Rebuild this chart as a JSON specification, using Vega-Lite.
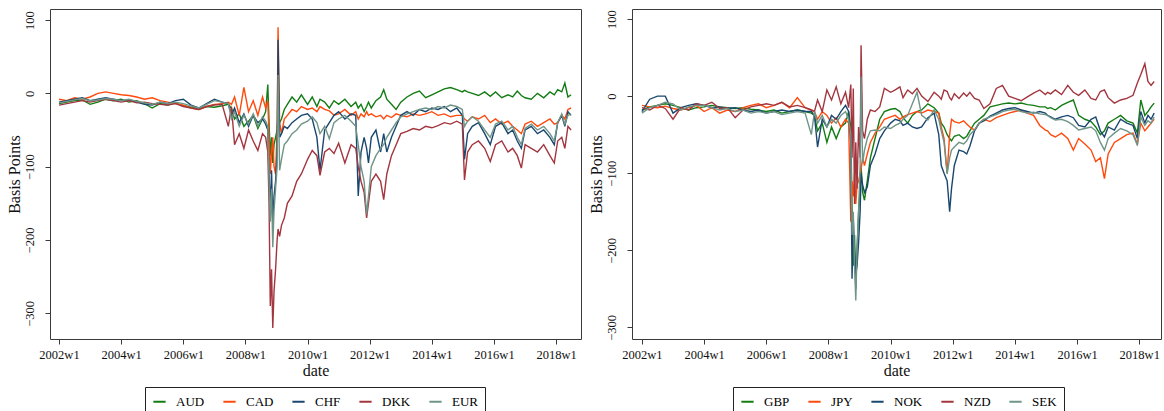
{
"$schema":"https://vega.github.io/schema/vega-lite/v6.json",
"padding":{"left":5,"top":8,"right":0,"bottom":0},
"background":"white",
"spacing":5,
"config":{
"view":{"stroke":"#3a3a3a","strokeWidth":1},
"font":"Liberation Serif",
"axis":{"labelFont":"Liberation Serif","titleFont":"Liberation Serif","labelColor":"#111","titleColor":"#111","titleFontWeight":"normal","grid":false,"domain":false,"tickColor":"#3a3a3a","tickSize":5,"labelFontSize":12.5,"titleFontSize":16},
"axisX":{"labelPadding":4,"titlePadding":2},
"axisY":{"labelAngle":-90,"labelAlign":"center","labelBaseline":"bottom","labelPadding":9,"titlePadding":1},
"legend":{"orient":"none","legendY":378,"direction":"horizontal","symbolType":"stroke","symbolStrokeWidth":2,"symbolSize":150,"labelFont":"Liberation Serif","labelFontSize":13,"labelColor":"#000","strokeColor":"#222","padding":7,"columnPadding":14,"labelOffset":9,"fillColor":"white"}
},
"datasets":{
"L":[
{"c":"AUD","d":2002.0,"v":-14},{"c":"AUD","d":2002.25,"v":-12},{"c":"AUD","d":2002.5,"v":-10},{"c":"AUD","d":2002.75,"v":-9},{"c":"AUD","d":2003.0,"v":-15},{"c":"AUD","d":2003.25,"v":-12},{"c":"AUD","d":2003.5,"v":-8},{"c":"AUD","d":2003.75,"v":-10},{"c":"AUD","d":2004.0,"v":-8},{"c":"AUD","d":2004.25,"v":-12},{"c":"AUD","d":2004.5,"v":-10},{"c":"AUD","d":2004.75,"v":-14},{"c":"AUD","d":2005.0,"v":-20},{"c":"AUD","d":2005.25,"v":-14},{"c":"AUD","d":2005.5,"v":-16},{"c":"AUD","d":2005.75,"v":-13},{"c":"AUD","d":2006.0,"v":-17},{"c":"AUD","d":2006.25,"v":-19},{"c":"AUD","d":2006.5,"v":-21},{"c":"AUD","d":2006.75,"v":-18},{"c":"AUD","d":2007.0,"v":-19},{"c":"AUD","d":2007.25,"v":-17},{"c":"AUD","d":2007.45,"v":-15},{"c":"AUD","d":2007.55,"v":-20},{"c":"AUD","d":2007.65,"v":-35},{"c":"AUD","d":2007.8,"v":-28},{"c":"AUD","d":2007.95,"v":-45},{"c":"AUD","d":2008.1,"v":-38},{"c":"AUD","d":2008.25,"v":-30},{"c":"AUD","d":2008.4,"v":-48},{"c":"AUD","d":2008.55,"v":-35},{"c":"AUD","d":2008.65,"v":-25},{"c":"AUD","d":2008.72,"v":12},{"c":"AUD","d":2008.76,"v":-40},{"c":"AUD","d":2008.8,"v":-85},{"c":"AUD","d":2008.84,"v":-60},{"c":"AUD","d":2008.88,"v":-95},{"c":"AUD","d":2008.92,"v":-70},{"c":"AUD","d":2008.97,"v":-60},{"c":"AUD","d":2009.02,"v":-50},{"c":"AUD","d":2009.05,"v":-30},{"c":"AUD","d":2009.1,"v":-40},{"c":"AUD","d":2009.16,"v":-35},{"c":"AUD","d":2009.25,"v":-22},{"c":"AUD","d":2009.35,"v":-15},{"c":"AUD","d":2009.5,"v":-5},{"c":"AUD","d":2009.65,"v":-12},{"c":"AUD","d":2009.8,"v":-2},{"c":"AUD","d":2010.0,"v":-15},{"c":"AUD","d":2010.15,"v":-5},{"c":"AUD","d":2010.3,"v":-18},{"c":"AUD","d":2010.4,"v":-8},{"c":"AUD","d":2010.55,"v":-12},{"c":"AUD","d":2010.7,"v":-20},{"c":"AUD","d":2010.85,"v":-10},{"c":"AUD","d":2011.0,"v":-15},{"c":"AUD","d":2011.2,"v":-8},{"c":"AUD","d":2011.4,"v":-18},{"c":"AUD","d":2011.55,"v":-12},{"c":"AUD","d":2011.63,"v":-20},{"c":"AUD","d":2011.72,"v":-15},{"c":"AUD","d":2011.82,"v":-25},{"c":"AUD","d":2011.9,"v":-18},{"c":"AUD","d":2011.96,"v":-12},{"c":"AUD","d":2012.05,"v":-20},{"c":"AUD","d":2012.2,"v":-10},{"c":"AUD","d":2012.35,"v":-5},{"c":"AUD","d":2012.45,"v":5},{"c":"AUD","d":2012.55,"v":-8},{"c":"AUD","d":2012.7,"v":-15},{"c":"AUD","d":2012.85,"v":-22},{"c":"AUD","d":2013.0,"v":-12},{"c":"AUD","d":2013.2,"v":-5},{"c":"AUD","d":2013.4,"v":0},{"c":"AUD","d":2013.6,"v":3},{"c":"AUD","d":2013.8,"v":-6},{"c":"AUD","d":2014.0,"v":-2},{"c":"AUD","d":2014.2,"v":2},{"c":"AUD","d":2014.4,"v":6},{"c":"AUD","d":2014.6,"v":8},{"c":"AUD","d":2014.8,"v":5},{"c":"AUD","d":2014.98,"v":2},{"c":"AUD","d":2015.05,"v":4},{"c":"AUD","d":2015.15,"v":2},{"c":"AUD","d":2015.3,"v":0},{"c":"AUD","d":2015.5,"v":-3},{"c":"AUD","d":2015.7,"v":2},{"c":"AUD","d":2015.88,"v":-4},{"c":"AUD","d":2016.05,"v":2},{"c":"AUD","d":2016.25,"v":-6},{"c":"AUD","d":2016.45,"v":-2},{"c":"AUD","d":2016.6,"v":-5},{"c":"AUD","d":2016.75,"v":3},{"c":"AUD","d":2016.88,"v":-3},{"c":"AUD","d":2017.0,"v":-6},{"c":"AUD","d":2017.2,"v":-8},{"c":"AUD","d":2017.4,"v":0},{"c":"AUD","d":2017.6,"v":-6},{"c":"AUD","d":2017.8,"v":2},{"c":"AUD","d":2017.94,"v":-2},{"c":"AUD","d":2018.05,"v":5},{"c":"AUD","d":2018.18,"v":2},{"c":"AUD","d":2018.28,"v":14},{"c":"AUD","d":2018.38,"v":-5},{"c":"AUD","d":2018.48,"v":-2},
{"c":"CAD","d":2002.0,"v":-8},{"c":"CAD","d":2002.25,"v":-10},{"c":"CAD","d":2002.5,"v":-6},{"c":"CAD","d":2002.75,"v":-8},{"c":"CAD","d":2003.0,"v":-5},{"c":"CAD","d":2003.25,"v":0},{"c":"CAD","d":2003.5,"v":2},{"c":"CAD","d":2003.75,"v":0},{"c":"CAD","d":2004.0,"v":-2},{"c":"CAD","d":2004.25,"v":-3},{"c":"CAD","d":2004.5,"v":-5},{"c":"CAD","d":2004.75,"v":-8},{"c":"CAD","d":2005.0,"v":-6},{"c":"CAD","d":2005.25,"v":-10},{"c":"CAD","d":2005.5,"v":-12},{"c":"CAD","d":2005.75,"v":-14},{"c":"CAD","d":2006.0,"v":-16},{"c":"CAD","d":2006.25,"v":-20},{"c":"CAD","d":2006.5,"v":-22},{"c":"CAD","d":2006.75,"v":-18},{"c":"CAD","d":2007.0,"v":-15},{"c":"CAD","d":2007.25,"v":-14},{"c":"CAD","d":2007.45,"v":-12},{"c":"CAD","d":2007.55,"v":-15},{"c":"CAD","d":2007.65,"v":-5},{"c":"CAD","d":2007.8,"v":-30},{"c":"CAD","d":2007.95,"v":8},{"c":"CAD","d":2008.1,"v":-25},{"c":"CAD","d":2008.25,"v":-10},{"c":"CAD","d":2008.4,"v":-30},{"c":"CAD","d":2008.55,"v":-5},{"c":"CAD","d":2008.65,"v":-20},{"c":"CAD","d":2008.72,"v":-10},{"c":"CAD","d":2008.76,"v":-60},{"c":"CAD","d":2008.8,"v":-110},{"c":"CAD","d":2008.84,"v":-80},{"c":"CAD","d":2008.88,"v":-60},{"c":"CAD","d":2008.92,"v":-100},{"c":"CAD","d":2008.97,"v":-110},{"c":"CAD","d":2009.02,"v":-50},{"c":"CAD","d":2009.05,"v":90},{"c":"CAD","d":2009.1,"v":-40},{"c":"CAD","d":2009.16,"v":-55},{"c":"CAD","d":2009.25,"v":-35},{"c":"CAD","d":2009.35,"v":-30},{"c":"CAD","d":2009.5,"v":-22},{"c":"CAD","d":2009.65,"v":-25},{"c":"CAD","d":2009.8,"v":-18},{"c":"CAD","d":2010.0,"v":-22},{"c":"CAD","d":2010.15,"v":-20},{"c":"CAD","d":2010.3,"v":-25},{"c":"CAD","d":2010.4,"v":-18},{"c":"CAD","d":2010.55,"v":-22},{"c":"CAD","d":2010.7,"v":-24},{"c":"CAD","d":2010.85,"v":-30},{"c":"CAD","d":2011.0,"v":-28},{"c":"CAD","d":2011.2,"v":-22},{"c":"CAD","d":2011.4,"v":-30},{"c":"CAD","d":2011.55,"v":-25},{"c":"CAD","d":2011.63,"v":-35},{"c":"CAD","d":2011.72,"v":-28},{"c":"CAD","d":2011.82,"v":-32},{"c":"CAD","d":2011.9,"v":-25},{"c":"CAD","d":2011.96,"v":-30},{"c":"CAD","d":2012.05,"v":-28},{"c":"CAD","d":2012.2,"v":-32},{"c":"CAD","d":2012.35,"v":-30},{"c":"CAD","d":2012.45,"v":-35},{"c":"CAD","d":2012.55,"v":-30},{"c":"CAD","d":2012.7,"v":-33},{"c":"CAD","d":2012.85,"v":-28},{"c":"CAD","d":2013.0,"v":-30},{"c":"CAD","d":2013.2,"v":-32},{"c":"CAD","d":2013.4,"v":-28},{"c":"CAD","d":2013.6,"v":-30},{"c":"CAD","d":2013.8,"v":-28},{"c":"CAD","d":2014.0,"v":-25},{"c":"CAD","d":2014.2,"v":-30},{"c":"CAD","d":2014.4,"v":-28},{"c":"CAD","d":2014.6,"v":-32},{"c":"CAD","d":2014.8,"v":-30},{"c":"CAD","d":2014.98,"v":-30},{"c":"CAD","d":2015.05,"v":-35},{"c":"CAD","d":2015.15,"v":-38},{"c":"CAD","d":2015.3,"v":-32},{"c":"CAD","d":2015.5,"v":-35},{"c":"CAD","d":2015.7,"v":-30},{"c":"CAD","d":2015.88,"v":-40},{"c":"CAD","d":2016.05,"v":-35},{"c":"CAD","d":2016.25,"v":-42},{"c":"CAD","d":2016.45,"v":-38},{"c":"CAD","d":2016.6,"v":-45},{"c":"CAD","d":2016.75,"v":-50},{"c":"CAD","d":2016.88,"v":-55},{"c":"CAD","d":2017.0,"v":-42},{"c":"CAD","d":2017.2,"v":-38},{"c":"CAD","d":2017.4,"v":-45},{"c":"CAD","d":2017.6,"v":-40},{"c":"CAD","d":2017.8,"v":-35},{"c":"CAD","d":2017.94,"v":-42},{"c":"CAD","d":2018.05,"v":-40},{"c":"CAD","d":2018.18,"v":-30},{"c":"CAD","d":2018.28,"v":-35},{"c":"CAD","d":2018.38,"v":-22},{"c":"CAD","d":2018.48,"v":-20},
{"c":"CHF","d":2002.0,"v":-12},{"c":"CHF","d":2002.25,"v":-10},{"c":"CHF","d":2002.5,"v":-8},{"c":"CHF","d":2002.75,"v":-6},{"c":"CHF","d":2003.0,"v":-10},{"c":"CHF","d":2003.25,"v":-8},{"c":"CHF","d":2003.5,"v":-6},{"c":"CHF","d":2003.75,"v":-8},{"c":"CHF","d":2004.0,"v":-10},{"c":"CHF","d":2004.25,"v":-9},{"c":"CHF","d":2004.5,"v":-12},{"c":"CHF","d":2004.75,"v":-15},{"c":"CHF","d":2005.0,"v":-16},{"c":"CHF","d":2005.25,"v":-12},{"c":"CHF","d":2005.5,"v":-14},{"c":"CHF","d":2005.75,"v":-10},{"c":"CHF","d":2006.0,"v":-8},{"c":"CHF","d":2006.25,"v":-16},{"c":"CHF","d":2006.5,"v":-20},{"c":"CHF","d":2006.75,"v":-14},{"c":"CHF","d":2007.0,"v":-8},{"c":"CHF","d":2007.25,"v":-12},{"c":"CHF","d":2007.45,"v":-14},{"c":"CHF","d":2007.55,"v":-30},{"c":"CHF","d":2007.65,"v":-20},{"c":"CHF","d":2007.8,"v":-40},{"c":"CHF","d":2007.95,"v":-28},{"c":"CHF","d":2008.1,"v":-45},{"c":"CHF","d":2008.25,"v":-30},{"c":"CHF","d":2008.4,"v":-40},{"c":"CHF","d":2008.55,"v":-35},{"c":"CHF","d":2008.65,"v":-42},{"c":"CHF","d":2008.72,"v":-50},{"c":"CHF","d":2008.76,"v":-110},{"c":"CHF","d":2008.8,"v":-160},{"c":"CHF","d":2008.84,"v":-105},{"c":"CHF","d":2008.88,"v":-175},{"c":"CHF","d":2008.92,"v":-140},{"c":"CHF","d":2008.97,"v":-120},{"c":"CHF","d":2009.02,"v":-80},{"c":"CHF","d":2009.05,"v":73},{"c":"CHF","d":2009.1,"v":-60},{"c":"CHF","d":2009.16,"v":-55},{"c":"CHF","d":2009.25,"v":-45},{"c":"CHF","d":2009.35,"v":-48},{"c":"CHF","d":2009.5,"v":-40},{"c":"CHF","d":2009.65,"v":-35},{"c":"CHF","d":2009.8,"v":-30},{"c":"CHF","d":2010.0,"v":-28},{"c":"CHF","d":2010.15,"v":-35},{"c":"CHF","d":2010.3,"v":-60},{"c":"CHF","d":2010.4,"v":-105},{"c":"CHF","d":2010.55,"v":-50},{"c":"CHF","d":2010.7,"v":-40},{"c":"CHF","d":2010.85,"v":-30},{"c":"CHF","d":2011.0,"v":-25},{"c":"CHF","d":2011.2,"v":-35},{"c":"CHF","d":2011.4,"v":-28},{"c":"CHF","d":2011.55,"v":-30},{"c":"CHF","d":2011.63,"v":-140},{"c":"CHF","d":2011.72,"v":-80},{"c":"CHF","d":2011.82,"v":-60},{"c":"CHF","d":2011.9,"v":-75},{"c":"CHF","d":2011.96,"v":-95},{"c":"CHF","d":2012.05,"v":-60},{"c":"CHF","d":2012.2,"v":-50},{"c":"CHF","d":2012.35,"v":-80},{"c":"CHF","d":2012.45,"v":-55},{"c":"CHF","d":2012.55,"v":-80},{"c":"CHF","d":2012.7,"v":-60},{"c":"CHF","d":2012.85,"v":-45},{"c":"CHF","d":2013.0,"v":-30},{"c":"CHF","d":2013.2,"v":-25},{"c":"CHF","d":2013.4,"v":-30},{"c":"CHF","d":2013.6,"v":-22},{"c":"CHF","d":2013.8,"v":-25},{"c":"CHF","d":2014.0,"v":-20},{"c":"CHF","d":2014.2,"v":-22},{"c":"CHF","d":2014.4,"v":-18},{"c":"CHF","d":2014.6,"v":-25},{"c":"CHF","d":2014.8,"v":-20},{"c":"CHF","d":2014.98,"v":-30},{"c":"CHF","d":2015.05,"v":-90},{"c":"CHF","d":2015.15,"v":-55},{"c":"CHF","d":2015.3,"v":-45},{"c":"CHF","d":2015.5,"v":-40},{"c":"CHF","d":2015.7,"v":-55},{"c":"CHF","d":2015.88,"v":-70},{"c":"CHF","d":2016.05,"v":-45},{"c":"CHF","d":2016.25,"v":-40},{"c":"CHF","d":2016.45,"v":-55},{"c":"CHF","d":2016.6,"v":-50},{"c":"CHF","d":2016.75,"v":-65},{"c":"CHF","d":2016.88,"v":-75},{"c":"CHF","d":2017.0,"v":-50},{"c":"CHF","d":2017.2,"v":-45},{"c":"CHF","d":2017.4,"v":-55},{"c":"CHF","d":2017.6,"v":-50},{"c":"CHF","d":2017.8,"v":-60},{"c":"CHF","d":2017.94,"v":-70},{"c":"CHF","d":2018.05,"v":-40},{"c":"CHF","d":2018.18,"v":-30},{"c":"CHF","d":2018.28,"v":-45},{"c":"CHF","d":2018.38,"v":-25},{"c":"CHF","d":2018.48,"v":-30},
{"c":"DKK","d":2002.0,"v":-16},{"c":"DKK","d":2002.25,"v":-14},{"c":"DKK","d":2002.5,"v":-12},{"c":"DKK","d":2002.75,"v":-10},{"c":"DKK","d":2003.0,"v":-12},{"c":"DKK","d":2003.25,"v":-10},{"c":"DKK","d":2003.5,"v":-8},{"c":"DKK","d":2003.75,"v":-10},{"c":"DKK","d":2004.0,"v":-12},{"c":"DKK","d":2004.25,"v":-10},{"c":"DKK","d":2004.5,"v":-13},{"c":"DKK","d":2004.75,"v":-12},{"c":"DKK","d":2005.0,"v":-14},{"c":"DKK","d":2005.25,"v":-15},{"c":"DKK","d":2005.5,"v":-16},{"c":"DKK","d":2005.75,"v":-14},{"c":"DKK","d":2006.0,"v":-18},{"c":"DKK","d":2006.25,"v":-20},{"c":"DKK","d":2006.5,"v":-22},{"c":"DKK","d":2006.75,"v":-18},{"c":"DKK","d":2007.0,"v":-16},{"c":"DKK","d":2007.25,"v":-15},{"c":"DKK","d":2007.45,"v":-45},{"c":"DKK","d":2007.55,"v":-18},{"c":"DKK","d":2007.65,"v":-70},{"c":"DKK","d":2007.8,"v":-55},{"c":"DKK","d":2007.95,"v":-75},{"c":"DKK","d":2008.1,"v":-50},{"c":"DKK","d":2008.25,"v":-65},{"c":"DKK","d":2008.4,"v":-78},{"c":"DKK","d":2008.55,"v":-55},{"c":"DKK","d":2008.65,"v":-60},{"c":"DKK","d":2008.72,"v":-80},{"c":"DKK","d":2008.76,"v":-150},{"c":"DKK","d":2008.8,"v":-290},{"c":"DKK","d":2008.84,"v":-240},{"c":"DKK","d":2008.88,"v":-320},{"c":"DKK","d":2008.92,"v":-270},{"c":"DKK","d":2008.97,"v":-240},{"c":"DKK","d":2009.02,"v":-200},{"c":"DKK","d":2009.05,"v":-185},{"c":"DKK","d":2009.1,"v":-195},{"c":"DKK","d":2009.16,"v":-180},{"c":"DKK","d":2009.25,"v":-170},{"c":"DKK","d":2009.35,"v":-150},{"c":"DKK","d":2009.5,"v":-140},{"c":"DKK","d":2009.65,"v":-120},{"c":"DKK","d":2009.8,"v":-110},{"c":"DKK","d":2010.0,"v":-90},{"c":"DKK","d":2010.15,"v":-78},{"c":"DKK","d":2010.3,"v":-85},{"c":"DKK","d":2010.4,"v":-112},{"c":"DKK","d":2010.55,"v":-80},{"c":"DKK","d":2010.7,"v":-75},{"c":"DKK","d":2010.85,"v":-82},{"c":"DKK","d":2011.0,"v":-68},{"c":"DKK","d":2011.2,"v":-95},{"c":"DKK","d":2011.4,"v":-70},{"c":"DKK","d":2011.55,"v":-75},{"c":"DKK","d":2011.63,"v":-100},{"c":"DKK","d":2011.72,"v":-120},{"c":"DKK","d":2011.82,"v":-135},{"c":"DKK","d":2011.9,"v":-170},{"c":"DKK","d":2011.96,"v":-150},{"c":"DKK","d":2012.05,"v":-120},{"c":"DKK","d":2012.2,"v":-110},{"c":"DKK","d":2012.35,"v":-120},{"c":"DKK","d":2012.45,"v":-145},{"c":"DKK","d":2012.55,"v":-110},{"c":"DKK","d":2012.7,"v":-85},{"c":"DKK","d":2012.85,"v":-70},{"c":"DKK","d":2013.0,"v":-55},{"c":"DKK","d":2013.2,"v":-52},{"c":"DKK","d":2013.4,"v":-48},{"c":"DKK","d":2013.6,"v":-50},{"c":"DKK","d":2013.8,"v":-45},{"c":"DKK","d":2014.0,"v":-47},{"c":"DKK","d":2014.2,"v":-44},{"c":"DKK","d":2014.4,"v":-40},{"c":"DKK","d":2014.6,"v":-42},{"c":"DKK","d":2014.8,"v":-38},{"c":"DKK","d":2014.98,"v":-42},{"c":"DKK","d":2015.05,"v":-118},{"c":"DKK","d":2015.15,"v":-80},{"c":"DKK","d":2015.3,"v":-70},{"c":"DKK","d":2015.5,"v":-65},{"c":"DKK","d":2015.7,"v":-75},{"c":"DKK","d":2015.88,"v":-93},{"c":"DKK","d":2016.05,"v":-70},{"c":"DKK","d":2016.25,"v":-65},{"c":"DKK","d":2016.45,"v":-80},{"c":"DKK","d":2016.6,"v":-75},{"c":"DKK","d":2016.75,"v":-85},{"c":"DKK","d":2016.88,"v":-102},{"c":"DKK","d":2017.0,"v":-70},{"c":"DKK","d":2017.2,"v":-75},{"c":"DKK","d":2017.4,"v":-80},{"c":"DKK","d":2017.6,"v":-70},{"c":"DKK","d":2017.8,"v":-85},{"c":"DKK","d":2017.94,"v":-95},{"c":"DKK","d":2018.05,"v":-65},{"c":"DKK","d":2018.18,"v":-60},{"c":"DKK","d":2018.28,"v":-75},{"c":"DKK","d":2018.38,"v":-45},{"c":"DKK","d":2018.48,"v":-50},
{"c":"EUR","d":2002.0,"v":-13},{"c":"EUR","d":2002.25,"v":-11},{"c":"EUR","d":2002.5,"v":-9},{"c":"EUR","d":2002.75,"v":-7},{"c":"EUR","d":2003.0,"v":-10},{"c":"EUR","d":2003.25,"v":-9},{"c":"EUR","d":2003.5,"v":-7},{"c":"EUR","d":2003.75,"v":-8},{"c":"EUR","d":2004.0,"v":-10},{"c":"EUR","d":2004.25,"v":-8},{"c":"EUR","d":2004.5,"v":-11},{"c":"EUR","d":2004.75,"v":-13},{"c":"EUR","d":2005.0,"v":-15},{"c":"EUR","d":2005.25,"v":-12},{"c":"EUR","d":2005.5,"v":-14},{"c":"EUR","d":2005.75,"v":-12},{"c":"EUR","d":2006.0,"v":-14},{"c":"EUR","d":2006.25,"v":-17},{"c":"EUR","d":2006.5,"v":-20},{"c":"EUR","d":2006.75,"v":-15},{"c":"EUR","d":2007.0,"v":-10},{"c":"EUR","d":2007.25,"v":-12},{"c":"EUR","d":2007.45,"v":-14},{"c":"EUR","d":2007.55,"v":-35},{"c":"EUR","d":2007.65,"v":-25},{"c":"EUR","d":2007.8,"v":-45},{"c":"EUR","d":2007.95,"v":-30},{"c":"EUR","d":2008.1,"v":-42},{"c":"EUR","d":2008.25,"v":-28},{"c":"EUR","d":2008.4,"v":-45},{"c":"EUR","d":2008.55,"v":-32},{"c":"EUR","d":2008.65,"v":-38},{"c":"EUR","d":2008.72,"v":-45},{"c":"EUR","d":2008.76,"v":-120},{"c":"EUR","d":2008.8,"v":-175},{"c":"EUR","d":2008.84,"v":-130},{"c":"EUR","d":2008.88,"v":-210},{"c":"EUR","d":2008.92,"v":-160},{"c":"EUR","d":2008.97,"v":-130},{"c":"EUR","d":2009.02,"v":-100},{"c":"EUR","d":2009.05,"v":25},{"c":"EUR","d":2009.1,"v":-105},{"c":"EUR","d":2009.16,"v":-90},{"c":"EUR","d":2009.25,"v":-70},{"c":"EUR","d":2009.35,"v":-65},{"c":"EUR","d":2009.5,"v":-55},{"c":"EUR","d":2009.65,"v":-50},{"c":"EUR","d":2009.8,"v":-42},{"c":"EUR","d":2010.0,"v":-38},{"c":"EUR","d":2010.15,"v":-32},{"c":"EUR","d":2010.3,"v":-40},{"c":"EUR","d":2010.4,"v":-55},{"c":"EUR","d":2010.55,"v":-45},{"c":"EUR","d":2010.7,"v":-62},{"c":"EUR","d":2010.85,"v":-40},{"c":"EUR","d":2011.0,"v":-35},{"c":"EUR","d":2011.2,"v":-30},{"c":"EUR","d":2011.4,"v":-38},{"c":"EUR","d":2011.55,"v":-45},{"c":"EUR","d":2011.63,"v":-70},{"c":"EUR","d":2011.72,"v":-100},{"c":"EUR","d":2011.82,"v":-120},{"c":"EUR","d":2011.9,"v":-165},{"c":"EUR","d":2011.96,"v":-140},{"c":"EUR","d":2012.05,"v":-100},{"c":"EUR","d":2012.2,"v":-85},{"c":"EUR","d":2012.35,"v":-75},{"c":"EUR","d":2012.45,"v":-70},{"c":"EUR","d":2012.55,"v":-60},{"c":"EUR","d":2012.7,"v":-50},{"c":"EUR","d":2012.85,"v":-40},{"c":"EUR","d":2013.0,"v":-32},{"c":"EUR","d":2013.2,"v":-28},{"c":"EUR","d":2013.4,"v":-25},{"c":"EUR","d":2013.6,"v":-22},{"c":"EUR","d":2013.8,"v":-20},{"c":"EUR","d":2014.0,"v":-22},{"c":"EUR","d":2014.2,"v":-18},{"c":"EUR","d":2014.4,"v":-20},{"c":"EUR","d":2014.6,"v":-16},{"c":"EUR","d":2014.8,"v":-18},{"c":"EUR","d":2014.98,"v":-22},{"c":"EUR","d":2015.05,"v":-45},{"c":"EUR","d":2015.15,"v":-38},{"c":"EUR","d":2015.3,"v":-32},{"c":"EUR","d":2015.5,"v":-38},{"c":"EUR","d":2015.7,"v":-50},{"c":"EUR","d":2015.88,"v":-60},{"c":"EUR","d":2016.05,"v":-42},{"c":"EUR","d":2016.25,"v":-38},{"c":"EUR","d":2016.45,"v":-50},{"c":"EUR","d":2016.6,"v":-45},{"c":"EUR","d":2016.75,"v":-60},{"c":"EUR","d":2016.88,"v":-70},{"c":"EUR","d":2017.0,"v":-48},{"c":"EUR","d":2017.2,"v":-42},{"c":"EUR","d":2017.4,"v":-50},{"c":"EUR","d":2017.6,"v":-45},{"c":"EUR","d":2017.8,"v":-55},{"c":"EUR","d":2017.94,"v":-65},{"c":"EUR","d":2018.05,"v":-40},{"c":"EUR","d":2018.18,"v":-28},{"c":"EUR","d":2018.28,"v":-42},{"c":"EUR","d":2018.38,"v":-30},{"c":"EUR","d":2018.48,"v":-28}
],
"R":[
{"c":"GBP","d":2002.0,"v":-18},{"c":"GBP","d":2002.25,"v":-14},{"c":"GBP","d":2002.5,"v":-12},{"c":"GBP","d":2002.75,"v":-10},{"c":"GBP","d":2003.0,"v":-12},{"c":"GBP","d":2003.25,"v":-15},{"c":"GBP","d":2003.5,"v":-18},{"c":"GBP","d":2003.75,"v":-15},{"c":"GBP","d":2004.0,"v":-14},{"c":"GBP","d":2004.25,"v":-12},{"c":"GBP","d":2004.5,"v":-14},{"c":"GBP","d":2004.75,"v":-15},{"c":"GBP","d":2005.0,"v":-16},{"c":"GBP","d":2005.25,"v":-15},{"c":"GBP","d":2005.5,"v":-17},{"c":"GBP","d":2005.75,"v":-18},{"c":"GBP","d":2006.0,"v":-20},{"c":"GBP","d":2006.25,"v":-18},{"c":"GBP","d":2006.5,"v":-22},{"c":"GBP","d":2006.75,"v":-20},{"c":"GBP","d":2007.0,"v":-18},{"c":"GBP","d":2007.25,"v":-20},{"c":"GBP","d":2007.45,"v":-22},{"c":"GBP","d":2007.55,"v":-25},{"c":"GBP","d":2007.65,"v":-45},{"c":"GBP","d":2007.8,"v":-35},{"c":"GBP","d":2007.95,"v":-60},{"c":"GBP","d":2008.1,"v":-40},{"c":"GBP","d":2008.25,"v":-55},{"c":"GBP","d":2008.4,"v":-40},{"c":"GBP","d":2008.55,"v":-35},{"c":"GBP","d":2008.65,"v":-20},{"c":"GBP","d":2008.72,"v":-40},{"c":"GBP","d":2008.76,"v":-150},{"c":"GBP","d":2008.8,"v":-220},{"c":"GBP","d":2008.84,"v":-180},{"c":"GBP","d":2008.88,"v":-250},{"c":"GBP","d":2008.92,"v":-200},{"c":"GBP","d":2008.97,"v":-150},{"c":"GBP","d":2009.02,"v":-120},{"c":"GBP","d":2009.05,"v":-90},{"c":"GBP","d":2009.1,"v":-125},{"c":"GBP","d":2009.16,"v":-135},{"c":"GBP","d":2009.25,"v":-110},{"c":"GBP","d":2009.35,"v":-80},{"c":"GBP","d":2009.5,"v":-55},{"c":"GBP","d":2009.65,"v":-30},{"c":"GBP","d":2009.8,"v":-20},{"c":"GBP","d":2010.0,"v":-17},{"c":"GBP","d":2010.15,"v":-16},{"c":"GBP","d":2010.3,"v":-20},{"c":"GBP","d":2010.4,"v":-28},{"c":"GBP","d":2010.55,"v":-35},{"c":"GBP","d":2010.7,"v":-25},{"c":"GBP","d":2010.85,"v":-20},{"c":"GBP","d":2011.0,"v":-18},{"c":"GBP","d":2011.2,"v":-10},{"c":"GBP","d":2011.4,"v":-15},{"c":"GBP","d":2011.55,"v":-22},{"c":"GBP","d":2011.63,"v":-35},{"c":"GBP","d":2011.72,"v":-40},{"c":"GBP","d":2011.82,"v":-50},{"c":"GBP","d":2011.9,"v":-55},{"c":"GBP","d":2011.96,"v":-58},{"c":"GBP","d":2012.05,"v":-52},{"c":"GBP","d":2012.2,"v":-50},{"c":"GBP","d":2012.35,"v":-55},{"c":"GBP","d":2012.45,"v":-52},{"c":"GBP","d":2012.55,"v":-45},{"c":"GBP","d":2012.7,"v":-35},{"c":"GBP","d":2012.85,"v":-30},{"c":"GBP","d":2013.0,"v":-25},{"c":"GBP","d":2013.2,"v":-14},{"c":"GBP","d":2013.4,"v":-12},{"c":"GBP","d":2013.6,"v":-10},{"c":"GBP","d":2013.8,"v":-9},{"c":"GBP","d":2014.0,"v":-10},{"c":"GBP","d":2014.2,"v":-9},{"c":"GBP","d":2014.4,"v":-11},{"c":"GBP","d":2014.6,"v":-12},{"c":"GBP","d":2014.8,"v":-14},{"c":"GBP","d":2014.98,"v":-14},{"c":"GBP","d":2015.05,"v":-16},{"c":"GBP","d":2015.15,"v":-15},{"c":"GBP","d":2015.3,"v":-18},{"c":"GBP","d":2015.5,"v":-12},{"c":"GBP","d":2015.7,"v":-8},{"c":"GBP","d":2015.88,"v":-5},{"c":"GBP","d":2016.05,"v":-25},{"c":"GBP","d":2016.25,"v":-30},{"c":"GBP","d":2016.45,"v":-33},{"c":"GBP","d":2016.6,"v":-40},{"c":"GBP","d":2016.75,"v":-50},{"c":"GBP","d":2016.88,"v":-45},{"c":"GBP","d":2017.0,"v":-35},{"c":"GBP","d":2017.2,"v":-30},{"c":"GBP","d":2017.4,"v":-25},{"c":"GBP","d":2017.6,"v":-32},{"c":"GBP","d":2017.8,"v":-35},{"c":"GBP","d":2017.94,"v":-48},{"c":"GBP","d":2018.05,"v":-5},{"c":"GBP","d":2018.18,"v":-25},{"c":"GBP","d":2018.28,"v":-20},{"c":"GBP","d":2018.38,"v":-14},{"c":"GBP","d":2018.48,"v":-9},
{"c":"JPY","d":2002.0,"v":-12},{"c":"JPY","d":2002.25,"v":-14},{"c":"JPY","d":2002.5,"v":-15},{"c":"JPY","d":2002.75,"v":-13},{"c":"JPY","d":2003.0,"v":-16},{"c":"JPY","d":2003.25,"v":-18},{"c":"JPY","d":2003.5,"v":-15},{"c":"JPY","d":2003.75,"v":-12},{"c":"JPY","d":2004.0,"v":-20},{"c":"JPY","d":2004.25,"v":-15},{"c":"JPY","d":2004.5,"v":-22},{"c":"JPY","d":2004.75,"v":-18},{"c":"JPY","d":2005.0,"v":-20},{"c":"JPY","d":2005.25,"v":-15},{"c":"JPY","d":2005.5,"v":-12},{"c":"JPY","d":2005.75,"v":-10},{"c":"JPY","d":2006.0,"v":-15},{"c":"JPY","d":2006.25,"v":-12},{"c":"JPY","d":2006.5,"v":-8},{"c":"JPY","d":2006.75,"v":-15},{"c":"JPY","d":2007.0,"v":-2},{"c":"JPY","d":2007.25,"v":-15},{"c":"JPY","d":2007.45,"v":-18},{"c":"JPY","d":2007.55,"v":-20},{"c":"JPY","d":2007.65,"v":-30},{"c":"JPY","d":2007.8,"v":-20},{"c":"JPY","d":2007.95,"v":-25},{"c":"JPY","d":2008.1,"v":-35},{"c":"JPY","d":2008.25,"v":-28},{"c":"JPY","d":2008.4,"v":-40},{"c":"JPY","d":2008.55,"v":-30},{"c":"JPY","d":2008.65,"v":-35},{"c":"JPY","d":2008.72,"v":-163},{"c":"JPY","d":2008.76,"v":-110},{"c":"JPY","d":2008.8,"v":-130},{"c":"JPY","d":2008.84,"v":-100},{"c":"JPY","d":2008.88,"v":-140},{"c":"JPY","d":2008.92,"v":-115},{"c":"JPY","d":2008.97,"v":-110},{"c":"JPY","d":2009.02,"v":-100},{"c":"JPY","d":2009.05,"v":-95},{"c":"JPY","d":2009.1,"v":-80},{"c":"JPY","d":2009.16,"v":-90},{"c":"JPY","d":2009.25,"v":-75},{"c":"JPY","d":2009.35,"v":-60},{"c":"JPY","d":2009.5,"v":-48},{"c":"JPY","d":2009.65,"v":-40},{"c":"JPY","d":2009.8,"v":-30},{"c":"JPY","d":2010.0,"v":-27},{"c":"JPY","d":2010.15,"v":-25},{"c":"JPY","d":2010.3,"v":-30},{"c":"JPY","d":2010.4,"v":-27},{"c":"JPY","d":2010.55,"v":-24},{"c":"JPY","d":2010.7,"v":-22},{"c":"JPY","d":2010.85,"v":-20},{"c":"JPY","d":2011.0,"v":-22},{"c":"JPY","d":2011.2,"v":-18},{"c":"JPY","d":2011.4,"v":-20},{"c":"JPY","d":2011.55,"v":-22},{"c":"JPY","d":2011.63,"v":-40},{"c":"JPY","d":2011.72,"v":-55},{"c":"JPY","d":2011.82,"v":-100},{"c":"JPY","d":2011.9,"v":-50},{"c":"JPY","d":2011.96,"v":-30},{"c":"JPY","d":2012.05,"v":-33},{"c":"JPY","d":2012.2,"v":-35},{"c":"JPY","d":2012.35,"v":-32},{"c":"JPY","d":2012.45,"v":-36},{"c":"JPY","d":2012.55,"v":-40},{"c":"JPY","d":2012.7,"v":-44},{"c":"JPY","d":2012.85,"v":-35},{"c":"JPY","d":2013.0,"v":-30},{"c":"JPY","d":2013.2,"v":-33},{"c":"JPY","d":2013.4,"v":-28},{"c":"JPY","d":2013.6,"v":-25},{"c":"JPY","d":2013.8,"v":-22},{"c":"JPY","d":2014.0,"v":-20},{"c":"JPY","d":2014.2,"v":-18},{"c":"JPY","d":2014.4,"v":-22},{"c":"JPY","d":2014.6,"v":-25},{"c":"JPY","d":2014.8,"v":-38},{"c":"JPY","d":2014.98,"v":-44},{"c":"JPY","d":2015.05,"v":-45},{"c":"JPY","d":2015.15,"v":-50},{"c":"JPY","d":2015.3,"v":-53},{"c":"JPY","d":2015.5,"v":-48},{"c":"JPY","d":2015.7,"v":-55},{"c":"JPY","d":2015.88,"v":-70},{"c":"JPY","d":2016.05,"v":-55},{"c":"JPY","d":2016.25,"v":-62},{"c":"JPY","d":2016.45,"v":-70},{"c":"JPY","d":2016.6,"v":-85},{"c":"JPY","d":2016.75,"v":-80},{"c":"JPY","d":2016.88,"v":-107},{"c":"JPY","d":2017.0,"v":-75},{"c":"JPY","d":2017.2,"v":-60},{"c":"JPY","d":2017.4,"v":-55},{"c":"JPY","d":2017.6,"v":-50},{"c":"JPY","d":2017.8,"v":-48},{"c":"JPY","d":2017.94,"v":-62},{"c":"JPY","d":2018.05,"v":-35},{"c":"JPY","d":2018.18,"v":-45},{"c":"JPY","d":2018.28,"v":-40},{"c":"JPY","d":2018.38,"v":-35},{"c":"JPY","d":2018.48,"v":-30},
{"c":"NOK","d":2002.0,"v":-20},{"c":"NOK","d":2002.25,"v":-4},{"c":"NOK","d":2002.5,"v":0},{"c":"NOK","d":2002.75,"v":0},{"c":"NOK","d":2003.0,"v":-22},{"c":"NOK","d":2003.25,"v":-15},{"c":"NOK","d":2003.5,"v":-12},{"c":"NOK","d":2003.75,"v":-10},{"c":"NOK","d":2004.0,"v":-12},{"c":"NOK","d":2004.25,"v":-15},{"c":"NOK","d":2004.5,"v":-14},{"c":"NOK","d":2004.75,"v":-16},{"c":"NOK","d":2005.0,"v":-15},{"c":"NOK","d":2005.25,"v":-18},{"c":"NOK","d":2005.5,"v":-20},{"c":"NOK","d":2005.75,"v":-18},{"c":"NOK","d":2006.0,"v":-22},{"c":"NOK","d":2006.25,"v":-20},{"c":"NOK","d":2006.5,"v":-18},{"c":"NOK","d":2006.75,"v":-20},{"c":"NOK","d":2007.0,"v":-18},{"c":"NOK","d":2007.25,"v":-20},{"c":"NOK","d":2007.45,"v":-20},{"c":"NOK","d":2007.55,"v":-25},{"c":"NOK","d":2007.65,"v":-66},{"c":"NOK","d":2007.8,"v":-30},{"c":"NOK","d":2007.95,"v":-40},{"c":"NOK","d":2008.1,"v":-25},{"c":"NOK","d":2008.25,"v":-30},{"c":"NOK","d":2008.4,"v":-20},{"c":"NOK","d":2008.55,"v":-12},{"c":"NOK","d":2008.65,"v":-20},{"c":"NOK","d":2008.72,"v":-60},{"c":"NOK","d":2008.76,"v":-237},{"c":"NOK","d":2008.8,"v":-160},{"c":"NOK","d":2008.84,"v":-200},{"c":"NOK","d":2008.88,"v":-230},{"c":"NOK","d":2008.92,"v":-220},{"c":"NOK","d":2008.97,"v":-190},{"c":"NOK","d":2009.02,"v":-150},{"c":"NOK","d":2009.05,"v":-100},{"c":"NOK","d":2009.1,"v":-115},{"c":"NOK","d":2009.16,"v":-125},{"c":"NOK","d":2009.25,"v":-118},{"c":"NOK","d":2009.35,"v":-90},{"c":"NOK","d":2009.5,"v":-75},{"c":"NOK","d":2009.65,"v":-55},{"c":"NOK","d":2009.8,"v":-45},{"c":"NOK","d":2010.0,"v":-35},{"c":"NOK","d":2010.15,"v":-30},{"c":"NOK","d":2010.3,"v":-32},{"c":"NOK","d":2010.4,"v":-38},{"c":"NOK","d":2010.55,"v":-35},{"c":"NOK","d":2010.7,"v":-40},{"c":"NOK","d":2010.85,"v":-42},{"c":"NOK","d":2011.0,"v":-40},{"c":"NOK","d":2011.2,"v":-28},{"c":"NOK","d":2011.4,"v":-22},{"c":"NOK","d":2011.55,"v":-50},{"c":"NOK","d":2011.63,"v":-90},{"c":"NOK","d":2011.72,"v":-100},{"c":"NOK","d":2011.82,"v":-110},{"c":"NOK","d":2011.9,"v":-150},{"c":"NOK","d":2011.96,"v":-120},{"c":"NOK","d":2012.05,"v":-90},{"c":"NOK","d":2012.2,"v":-70},{"c":"NOK","d":2012.35,"v":-72},{"c":"NOK","d":2012.45,"v":-75},{"c":"NOK","d":2012.55,"v":-65},{"c":"NOK","d":2012.7,"v":-45},{"c":"NOK","d":2012.85,"v":-35},{"c":"NOK","d":2013.0,"v":-32},{"c":"NOK","d":2013.2,"v":-26},{"c":"NOK","d":2013.4,"v":-22},{"c":"NOK","d":2013.6,"v":-18},{"c":"NOK","d":2013.8,"v":-16},{"c":"NOK","d":2014.0,"v":-15},{"c":"NOK","d":2014.2,"v":-18},{"c":"NOK","d":2014.4,"v":-20},{"c":"NOK","d":2014.6,"v":-22},{"c":"NOK","d":2014.8,"v":-20},{"c":"NOK","d":2014.98,"v":-22},{"c":"NOK","d":2015.05,"v":-25},{"c":"NOK","d":2015.15,"v":-27},{"c":"NOK","d":2015.3,"v":-30},{"c":"NOK","d":2015.5,"v":-27},{"c":"NOK","d":2015.7,"v":-25},{"c":"NOK","d":2015.88,"v":-28},{"c":"NOK","d":2016.05,"v":-38},{"c":"NOK","d":2016.25,"v":-40},{"c":"NOK","d":2016.45,"v":-30},{"c":"NOK","d":2016.6,"v":-27},{"c":"NOK","d":2016.75,"v":-45},{"c":"NOK","d":2016.88,"v":-53},{"c":"NOK","d":2017.0,"v":-40},{"c":"NOK","d":2017.2,"v":-44},{"c":"NOK","d":2017.4,"v":-30},{"c":"NOK","d":2017.6,"v":-35},{"c":"NOK","d":2017.8,"v":-38},{"c":"NOK","d":2017.94,"v":-55},{"c":"NOK","d":2018.05,"v":-20},{"c":"NOK","d":2018.18,"v":-35},{"c":"NOK","d":2018.28,"v":-25},{"c":"NOK","d":2018.38,"v":-30},{"c":"NOK","d":2018.48,"v":-22},
{"c":"NZD","d":2002.0,"v":-15},{"c":"NZD","d":2002.25,"v":-18},{"c":"NZD","d":2002.5,"v":-12},{"c":"NZD","d":2002.75,"v":-16},{"c":"NZD","d":2003.0,"v":-30},{"c":"NZD","d":2003.25,"v":-15},{"c":"NZD","d":2003.5,"v":-18},{"c":"NZD","d":2003.75,"v":-10},{"c":"NZD","d":2004.0,"v":-12},{"c":"NZD","d":2004.25,"v":-8},{"c":"NZD","d":2004.5,"v":-16},{"c":"NZD","d":2004.75,"v":-15},{"c":"NZD","d":2005.0,"v":-28},{"c":"NZD","d":2005.25,"v":-18},{"c":"NZD","d":2005.5,"v":-14},{"c":"NZD","d":2005.75,"v":-12},{"c":"NZD","d":2006.0,"v":-10},{"c":"NZD","d":2006.25,"v":-12},{"c":"NZD","d":2006.5,"v":-8},{"c":"NZD","d":2006.75,"v":-14},{"c":"NZD","d":2007.0,"v":-12},{"c":"NZD","d":2007.25,"v":-15},{"c":"NZD","d":2007.45,"v":-18},{"c":"NZD","d":2007.55,"v":-20},{"c":"NZD","d":2007.65,"v":-5},{"c":"NZD","d":2007.8,"v":-20},{"c":"NZD","d":2007.95,"v":8},{"c":"NZD","d":2008.1,"v":-5},{"c":"NZD","d":2008.25,"v":12},{"c":"NZD","d":2008.4,"v":-10},{"c":"NZD","d":2008.55,"v":5},{"c":"NZD","d":2008.65,"v":-15},{"c":"NZD","d":2008.72,"v":15},{"c":"NZD","d":2008.76,"v":-80},{"c":"NZD","d":2008.8,"v":10},{"c":"NZD","d":2008.84,"v":-140},{"c":"NZD","d":2008.88,"v":-60},{"c":"NZD","d":2008.92,"v":-120},{"c":"NZD","d":2008.97,"v":-40},{"c":"NZD","d":2009.02,"v":-80},{"c":"NZD","d":2009.05,"v":66},{"c":"NZD","d":2009.1,"v":-45},{"c":"NZD","d":2009.16,"v":-55},{"c":"NZD","d":2009.25,"v":-30},{"c":"NZD","d":2009.35,"v":-18},{"c":"NZD","d":2009.5,"v":-20},{"c":"NZD","d":2009.65,"v":-14},{"c":"NZD","d":2009.8,"v":10},{"c":"NZD","d":2010.0,"v":5},{"c":"NZD","d":2010.15,"v":8},{"c":"NZD","d":2010.3,"v":12},{"c":"NZD","d":2010.4,"v":-2},{"c":"NZD","d":2010.55,"v":8},{"c":"NZD","d":2010.7,"v":3},{"c":"NZD","d":2010.85,"v":10},{"c":"NZD","d":2011.0,"v":0},{"c":"NZD","d":2011.2,"v":-7},{"c":"NZD","d":2011.4,"v":5},{"c":"NZD","d":2011.55,"v":0},{"c":"NZD","d":2011.63,"v":-4},{"c":"NZD","d":2011.72,"v":8},{"c":"NZD","d":2011.82,"v":6},{"c":"NZD","d":2011.9,"v":-2},{"c":"NZD","d":2011.96,"v":-5},{"c":"NZD","d":2012.05,"v":3},{"c":"NZD","d":2012.2,"v":-3},{"c":"NZD","d":2012.35,"v":4},{"c":"NZD","d":2012.45,"v":0},{"c":"NZD","d":2012.55,"v":5},{"c":"NZD","d":2012.7,"v":-3},{"c":"NZD","d":2012.85,"v":-5},{"c":"NZD","d":2013.0,"v":-16},{"c":"NZD","d":2013.2,"v":-10},{"c":"NZD","d":2013.4,"v":10},{"c":"NZD","d":2013.6,"v":14},{"c":"NZD","d":2013.8,"v":0},{"c":"NZD","d":2014.0,"v":-3},{"c":"NZD","d":2014.2,"v":-6},{"c":"NZD","d":2014.4,"v":-1},{"c":"NZD","d":2014.6,"v":4},{"c":"NZD","d":2014.8,"v":8},{"c":"NZD","d":2014.98,"v":2},{"c":"NZD","d":2015.05,"v":5},{"c":"NZD","d":2015.15,"v":3},{"c":"NZD","d":2015.3,"v":8},{"c":"NZD","d":2015.5,"v":2},{"c":"NZD","d":2015.7,"v":14},{"c":"NZD","d":2015.88,"v":5},{"c":"NZD","d":2016.05,"v":1},{"c":"NZD","d":2016.25,"v":8},{"c":"NZD","d":2016.45,"v":-3},{"c":"NZD","d":2016.6,"v":-5},{"c":"NZD","d":2016.75,"v":6},{"c":"NZD","d":2016.88,"v":8},{"c":"NZD","d":2017.0,"v":-2},{"c":"NZD","d":2017.2,"v":-9},{"c":"NZD","d":2017.4,"v":-5},{"c":"NZD","d":2017.6,"v":-3},{"c":"NZD","d":2017.8,"v":1},{"c":"NZD","d":2017.94,"v":17},{"c":"NZD","d":2018.05,"v":28},{"c":"NZD","d":2018.18,"v":42},{"c":"NZD","d":2018.28,"v":19},{"c":"NZD","d":2018.38,"v":14},{"c":"NZD","d":2018.48,"v":19},
{"c":"SEK","d":2002.0,"v":-22},{"c":"SEK","d":2002.25,"v":-15},{"c":"SEK","d":2002.5,"v":-12},{"c":"SEK","d":2002.75,"v":-8},{"c":"SEK","d":2003.0,"v":-10},{"c":"SEK","d":2003.25,"v":-18},{"c":"SEK","d":2003.5,"v":-14},{"c":"SEK","d":2003.75,"v":-12},{"c":"SEK","d":2004.0,"v":-12},{"c":"SEK","d":2004.25,"v":-15},{"c":"SEK","d":2004.5,"v":-18},{"c":"SEK","d":2004.75,"v":-16},{"c":"SEK","d":2005.0,"v":-20},{"c":"SEK","d":2005.25,"v":-18},{"c":"SEK","d":2005.5,"v":-22},{"c":"SEK","d":2005.75,"v":-20},{"c":"SEK","d":2006.0,"v":-22},{"c":"SEK","d":2006.25,"v":-20},{"c":"SEK","d":2006.5,"v":-24},{"c":"SEK","d":2006.75,"v":-22},{"c":"SEK","d":2007.0,"v":-20},{"c":"SEK","d":2007.25,"v":-22},{"c":"SEK","d":2007.45,"v":-50},{"c":"SEK","d":2007.55,"v":-20},{"c":"SEK","d":2007.65,"v":-35},{"c":"SEK","d":2007.8,"v":-25},{"c":"SEK","d":2007.95,"v":-40},{"c":"SEK","d":2008.1,"v":-30},{"c":"SEK","d":2008.25,"v":-35},{"c":"SEK","d":2008.4,"v":-25},{"c":"SEK","d":2008.55,"v":-20},{"c":"SEK","d":2008.65,"v":-30},{"c":"SEK","d":2008.72,"v":-50},{"c":"SEK","d":2008.76,"v":-180},{"c":"SEK","d":2008.8,"v":-150},{"c":"SEK","d":2008.84,"v":-220},{"c":"SEK","d":2008.88,"v":-265},{"c":"SEK","d":2008.92,"v":-200},{"c":"SEK","d":2008.97,"v":-150},{"c":"SEK","d":2009.02,"v":-90},{"c":"SEK","d":2009.05,"v":25},{"c":"SEK","d":2009.1,"v":-87},{"c":"SEK","d":2009.16,"v":-70},{"c":"SEK","d":2009.25,"v":-55},{"c":"SEK","d":2009.35,"v":-45},{"c":"SEK","d":2009.5,"v":-44},{"c":"SEK","d":2009.65,"v":-45},{"c":"SEK","d":2009.8,"v":-40},{"c":"SEK","d":2010.0,"v":-42},{"c":"SEK","d":2010.15,"v":-38},{"c":"SEK","d":2010.3,"v":-35},{"c":"SEK","d":2010.4,"v":-30},{"c":"SEK","d":2010.55,"v":-25},{"c":"SEK","d":2010.7,"v":-10},{"c":"SEK","d":2010.85,"v":5},{"c":"SEK","d":2011.0,"v":-25},{"c":"SEK","d":2011.2,"v":-31},{"c":"SEK","d":2011.4,"v":-18},{"c":"SEK","d":2011.55,"v":-30},{"c":"SEK","d":2011.63,"v":-45},{"c":"SEK","d":2011.72,"v":-60},{"c":"SEK","d":2011.82,"v":-101},{"c":"SEK","d":2011.9,"v":-80},{"c":"SEK","d":2011.96,"v":-70},{"c":"SEK","d":2012.05,"v":-66},{"c":"SEK","d":2012.2,"v":-60},{"c":"SEK","d":2012.35,"v":-62},{"c":"SEK","d":2012.45,"v":-58},{"c":"SEK","d":2012.55,"v":-50},{"c":"SEK","d":2012.7,"v":-44},{"c":"SEK","d":2012.85,"v":-35},{"c":"SEK","d":2013.0,"v":-30},{"c":"SEK","d":2013.2,"v":-27},{"c":"SEK","d":2013.4,"v":-24},{"c":"SEK","d":2013.6,"v":-20},{"c":"SEK","d":2013.8,"v":-18},{"c":"SEK","d":2014.0,"v":-17},{"c":"SEK","d":2014.2,"v":-20},{"c":"SEK","d":2014.4,"v":-22},{"c":"SEK","d":2014.6,"v":-21},{"c":"SEK","d":2014.8,"v":-23},{"c":"SEK","d":2014.98,"v":-24},{"c":"SEK","d":2015.05,"v":-25},{"c":"SEK","d":2015.15,"v":-28},{"c":"SEK","d":2015.3,"v":-31},{"c":"SEK","d":2015.5,"v":-30},{"c":"SEK","d":2015.7,"v":-33},{"c":"SEK","d":2015.88,"v":-38},{"c":"SEK","d":2016.05,"v":-44},{"c":"SEK","d":2016.25,"v":-42},{"c":"SEK","d":2016.45,"v":-40},{"c":"SEK","d":2016.6,"v":-45},{"c":"SEK","d":2016.75,"v":-60},{"c":"SEK","d":2016.88,"v":-70},{"c":"SEK","d":2017.0,"v":-55},{"c":"SEK","d":2017.2,"v":-48},{"c":"SEK","d":2017.4,"v":-42},{"c":"SEK","d":2017.6,"v":-45},{"c":"SEK","d":2017.8,"v":-50},{"c":"SEK","d":2017.94,"v":-64},{"c":"SEK","d":2018.05,"v":-27},{"c":"SEK","d":2018.18,"v":-38},{"c":"SEK","d":2018.28,"v":-32},{"c":"SEK","d":2018.38,"v":-35},{"c":"SEK","d":2018.48,"v":-27}
]
},
"hconcat":[
{"width":531,"height":330,"data":{"name":"L"},"mark":{"type":"line","strokeWidth":1.4},
"encoding":{
"x":{"field":"d","type":"quantitative","title":"date","scale":{"domain":[2001.71,2018.8],"nice":false,"zero":false},"axis":{"values":[2002,2004,2006,2008,2010,2012,2014,2016,2018],"labelExpr":"datum.value + 'w1'"}},
"y":{"field":"v","type":"quantitative","title":"Basis Points","scale":{"domain":[-335,115],"nice":false,"zero":false},"axis":{"values":[-300,-200,-100,0,100]}},
"color":{"field":"c","type":"nominal","scale":{"domain":["AUD","CAD","CHF","DKK","EUR"],"range":["#137b13","#ff4a0d","#1a476f","#a3353e","#6f9488"]},"legend":{"title":null,"legendX":95}},
"order":{"field":"d","type":"quantitative"}}},
{"width":529,"height":330,"data":{"name":"R"},"mark":{"type":"line","strokeWidth":1.4},
"encoding":{
"x":{"field":"d","type":"quantitative","title":"date","scale":{"domain":[2001.68,2018.7],"nice":false,"zero":false},"axis":{"values":[2002,2004,2006,2008,2010,2012,2014,2016,2018],"labelExpr":"datum.value + 'w1'"}},
"y":{"field":"v","type":"quantitative","title":"Basis Points","scale":{"domain":[-315,113],"nice":false,"zero":false},"axis":{"values":[-300,-200,-100,0,100]}},
"color":{"field":"c","type":"nominal","scale":{"domain":["GBP","JPY","NOK","NZD","SEK"],"range":["#137b13","#ff4a0d","#1a476f","#a3353e","#6f9488"]},"legend":{"title":null,"legendX":101}},
"order":{"field":"d","type":"quantitative"}}}
],
"resolve":{"scale":{"color":"independent","x":"independent","y":"independent"},"legend":{"color":"independent"}}
}
